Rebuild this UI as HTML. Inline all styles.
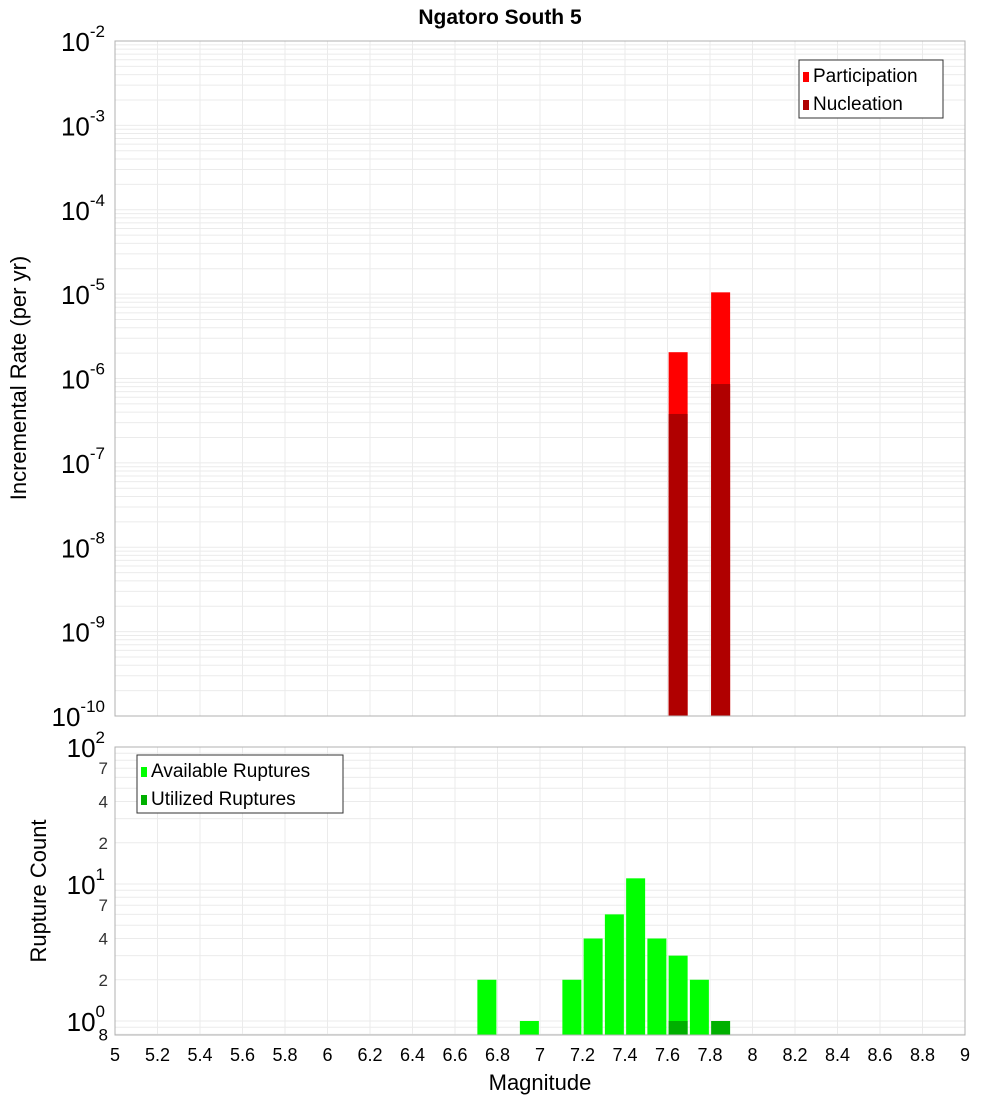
<!DOCTYPE html>
<html><head><meta charset="utf-8"><style>
body{margin:0;background:#fff;width:1000px;height:1100px;overflow:hidden}
svg text{font-family:"Liberation Sans","DejaVu Sans",sans-serif}
</style></head><body>
<svg id="chart" width="1000" height="1100" xmlns="http://www.w3.org/2000/svg"></svg>
<script>
const magCenters=[7.65,7.85];
const participation=[2.05e-6,1.05e-5];
const nucleation=[3.8e-7,8.6e-7];
const countMags=[6.75,6.95,7.15,7.25,7.35,7.45,7.55,7.65,7.75];
const available=[2,1,2,4,6,11,4,3,2];
const utilMags=[7.65,7.85];
const utilized=[1,1];
const xTicks=["5","5.2","5.4","5.6","5.8","6","6.2","6.4","6.6","6.8","7","7.2","7.4","7.6","7.8","8","8.2","8.4","8.6","8.8","9"];

const svg=document.getElementById('chart');
const NS='http://www.w3.org/2000/svg';
function mk(tag,attrs,parent,text){const e=document.createElementNS(NS,tag);for(const k in attrs)e.setAttribute(k,attrs[k]);if(text!==undefined)e.textContent=text;(parent||svg).appendChild(e);return e;}
const X0=115,X1=965;
const xs=m=>X0+(m-5)/4*(X1-X0);
const T0=41,T1=716;
const ys1=v=>T0+(-2-Math.log10(v))/8*(T1-T0);
const B0=747,DEC=137;
const ys2=v=>B0+(2-Math.log10(v))*DEC;
const B1=1035;

// title
let t=mk('text',{x:500,y:24,'text-anchor':'middle','font-size':21,'font-weight':'bold'},svg,'Ngatoro South 5');


// grids
function vgrid(y0,y1){for(let i=0;i<xTicks.length;i++){const x=xs(5+i*0.2);const l=mk('line',{x1:x,x2:x,y1:y0,y2:y1,stroke:'#ebebeb','stroke-width':1});}}
vgrid(T0,T1);vgrid(B0,B1);
for(let d=-10;d<-2;d++){for(let k=1;k<10;k++){const y=ys1(k*Math.pow(10,d));const l=mk('line',{x1:X0,x2:X1,y1:y,y2:y,stroke:'#ebebeb','stroke-width':1});}}
for(let d=-1;d<2;d++){for(let k=1;k<10;k++){const v=k*Math.pow(10,d);const y=ys2(v);if(y>B1||y<B0)continue;const l=mk('line',{x1:X0,x2:X1,y1:y,y2:y,stroke:'#ebebeb','stroke-width':1});}}

// top bars
const bw=19;
for(let i=0;i<magCenters.length;i++){
 const x=xs(magCenters[i])-bw/2;
 let r=mk('rect',{x:x,y:ys1(participation[i]),width:bw,height:T1-ys1(participation[i]),fill:'#ff0000'});
 
 r=mk('rect',{x:x,y:ys1(nucleation[i]),width:bw,height:T1-ys1(nucleation[i]),fill:'#b00000'});
 
}
// bottom bars
for(let i=0;i<countMags.length;i++){
 const x=xs(countMags[i])-bw/2;
 const r=mk('rect',{x:x,y:ys2(available[i]),width:bw,height:B1-ys2(available[i]),fill:'#00ff00'});
 
}
for(let i=0;i<utilMags.length;i++){
 const x=xs(utilMags[i])-bw/2;
 const r=mk('rect',{x:x,y:ys2(utilized[i]),width:bw,height:B1-ys2(utilized[i]),fill:'#00b000'});
 
}
// frames
let f=mk('rect',{x:X0,y:T0,width:X1-X0,height:T1-T0,fill:'none',stroke:'#b0b0b0'});
f=mk('rect',{x:X0,y:B0,width:X1-X0,height:B1-B0,fill:'none',stroke:'#b0b0b0'});

// top y ticks
for(let d=-2;d>=-10;d--){
 const y=ys1(Math.pow(10,d));
 const g=mk('text',{x:105,y:y+10,'text-anchor':'end','font-size':26});
 
 mk('tspan',{},g,'10');mk('tspan',{dy:-14,'font-size':17},g,String(d));
}
// bottom y ticks
const majors=[[100,'2'],[10,'1'],[1,'0']];
majors.forEach(([v,e])=>{const y=ys2(v);const g=mk('text',{x:105,y:y+10,'text-anchor':'end','font-size':26});mk('tspan',{},g,'10');mk('tspan',{dy:-14,'font-size':17},g,e);});
[[70,'7'],[40,'4'],[20,'2'],[7,'7'],[4,'4'],[2,'2'],[0.8,'8']].forEach(([v,s])=>{const y=ys2(v);const tt=mk('text',{x:108,y:y+6,'text-anchor':'end','font-size':17,fill:v==0.8?'#000':'#333'},svg,s);});

// x ticks
xTicks.forEach((s,i)=>{const tt=mk('text',{x:xs(5+i*0.2),y:1061,'text-anchor':'middle','font-size':18},svg,s);});
t=mk('text',{x:540,y:1090,'text-anchor':'middle','font-size':22},svg,'Magnitude');
t=mk('text',{x:0,y:0,'text-anchor':'middle','font-size':22,transform:'translate(26,378) rotate(-90)'},svg,'Incremental Rate (per yr)');
t=mk('text',{x:0,y:0,'text-anchor':'middle','font-size':22,transform:'translate(46,891) rotate(-90)'},svg,'Rupture Count');

// legends
function legend(x,y,w,items,name){
 const g=mk('g',{});
 mk('rect',{x:x,y:y,width:w,height:58,fill:'#fff',stroke:'#333'},g);
 items.forEach(([c,s],i)=>{
  mk('rect',{x:x+4,y:y+12+i*28,width:6,height:10,fill:c},g);
  const tt=mk('text',{x:x+14,y:y+22+i*28,'font-size':19},g,s);
  
 });
}
legend(799,60,144,[['#ff0000','Participation'],['#b00000','Nucleation']],'top-legend');
legend(137,755,206,[['#00ff00','Available Ruptures'],['#00b000','Utilized Ruptures']],'bottom-legend');
</script>
</body></html>
